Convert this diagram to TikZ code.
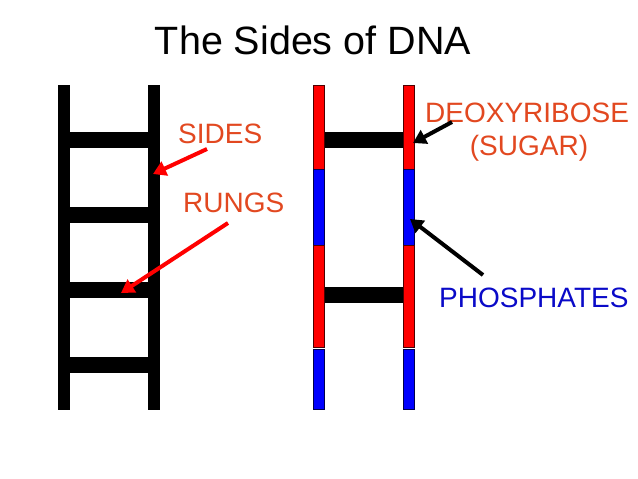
\documentclass[tikz,border=0pt]{standalone}
\usepackage{fontspec}
\setmainfont{Liberation Sans}
\usetikzlibrary{arrows.meta}
\definecolor{lblred}{RGB}{226,72,32}
\definecolor{lblblue}{RGB}{10,10,200}
\definecolor{seg red}{RGB}{255,0,0}
\definecolor{segblue}{RGB}{0,0,255}
\tikzset{
  lbl/.style={anchor=base west,inner sep=0pt,font=\fontsize{28}{28}\selectfont},
  blk/.style={fill=black},
  sugar/.style={fill=seg red,draw=black!70!red,line width=0.5pt},
  phos/.style={fill=segblue,draw=black!70!blue,line width=0.5pt},
  redarrow/.style={draw=red,line width=4pt,-{Triangle[length=13pt,width=15pt]}},
  blkarrow/.style={draw=black,line width=4pt,-{Triangle[length=13pt,width=15pt]}}
}
\begin{document}
\begin{tikzpicture}[x=1pt,y=-1pt]
\useasboundingbox (0,0) rectangle (638,479);
\fill[white] (0,0) rectangle (638,479);
% title
\node[anchor=base,inner sep=0pt,font=\fontsize{39.5}{39.5}\selectfont] (title) at (313,54) {The Sides of DNA};
% left ladder
\fill[blk] (58,85) rectangle (70,410);
\fill[blk] (148,85) rectangle (160,410);
\foreach \y in {132,207,282,357}{\fill[blk] (70,\y) rectangle (148,\y+16);}
% right ladder rungs
\fill[blk] (324,132) rectangle (403,148);
\fill[blk] (324,287) rectangle (403,303);
% right ladder segments
\foreach \x in {313,403}{
  \draw[sugar] (\x,85) rectangle (\x+11,169);
  \draw[phos] (\x,169) rectangle (\x+11,245);
  \draw[sugar] (\x,245) rectangle (\x+11,347);
  \draw[phos] (\x,349) rectangle (\x+11,409);
}
% labels
\node[lbl,text=lblred] (sides) at (178,143) {SIDES};
\node[lbl,text=lblred] (rungs) at (183,212) {RUNGS};
\node[lbl,text=lblred] (deoxy) at (425,122) {DEOXYRIBOSE};
\node[anchor=base,inner sep=0pt,font=\fontsize{28}{28}\selectfont,text=lblred] (sugarlbl) at (529,155) {(SUGAR)};
\node[lbl,text=lblblue] (phosl) at (439,307) {PHOSPHATES};
% arrow ends
\coordinate (sidesA) at (207,149);
\coordinate (sidesT) at (153,174);
\coordinate (rungsA) at (228,223);
\coordinate (rungsT) at (121,293);
\coordinate (deoxyA) at (452,122);
\coordinate (deoxyT) at (413,143);
\coordinate (phosA) at (483,275);
\coordinate (phosT) at (410,219);
\draw[redarrow] (sidesA) -- (sidesT);
\draw[redarrow] (rungsA) -- (rungsT);
\draw[blkarrow] (deoxyA) -- (deoxyT);
\draw[blkarrow] (phosA) -- (phosT);
\end{tikzpicture}
\end{document}
